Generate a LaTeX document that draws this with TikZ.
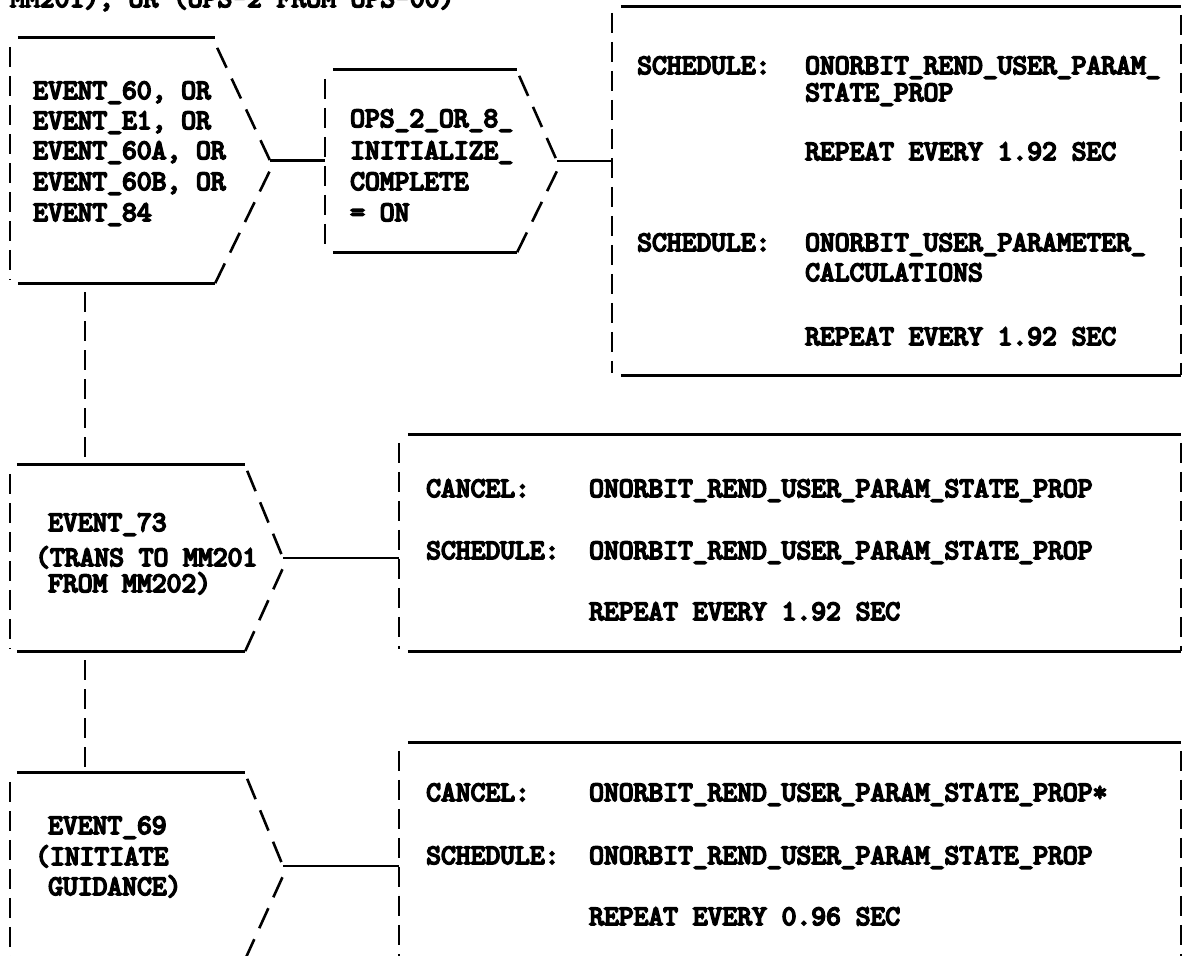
\documentclass[tikz,border=0pt]{standalone}
\usepackage{fontspec}
\newfontfamily\typefont{lmmono10-regular.otf}[FakeBold=6]
\usepackage{tikz}

\begin{document}
\begin{tikzpicture}[
        x=1pt, y=-1pt,
        body/.style={rectangle, draw=none, inner sep=0pt},
        txt/.style={inner sep=0pt, anchor=base west, font=\typefont\fontsize{28.2}{30}\selectfont},
        rule/.style={line width=2.8pt},
        side/.style={line width=2.4pt, dash pattern=on 20pt off 9pt},
        slant/.style={line width=2.6pt, dash pattern=on 22pt off 12pt}
    ]
    \useasboundingbox (0,0) rectangle (1184,956);

    % heading line, cut off by the page
    \node[txt] (head) at (10,7) {MM201), OR (OPS-2 FROM OPS-00)};

    % Event boxes
    \node[body, minimum width=205pt, minimum height=245pt] (ev60) at (112.5,160.5) {};
    \coordinate (ev60tip) at (270,160.5);
    \node[body, minimum width=192pt, minimum height=182pt] (ops) at (421,161) {};
    \coordinate (opstip) at (557,161);
    \node[body, minimum width=235pt, minimum height=186pt] (ev73) at (127.5,558) {};
    \coordinate (ev73tip) at (283,558);
    \node[body, minimum width=235pt, minimum height=186pt] (ev69) at (127.5,866) {};
    \coordinate (ev69tip) at (283,866);

    % Schedule boxes
    \node[body, minimum width=569pt, minimum height=368pt] (sch1) at (896.5,191) {};
    \node[body, minimum width=782pt, minimum height=216pt] (sch2) at (790,543) {};
    \node[body, minimum width=782pt, minimum height=216pt] (sch3) at (790,851) {};

    % Event outlines
    \draw[rule] ([xshift=8pt]ev60.north west) -- (ev60.north east);
    \draw[side] ([yshift=-9pt]ev60.north west) -- ([yshift=3pt]ev60.south west);
    \draw[slant] ([xshift=2pt,yshift=-10pt]ev60.north east) -- (ev60tip);
    \draw[slant] (ev60.south east) -- ([yshift=-10pt]ev60tip);
    \draw[rule] ([xshift=8pt]ev60.south west) -- (ev60.south east);

    \draw[rule] ([xshift=8pt]ops.north west) -- (ops.north east);
    \draw[side] ([yshift=-9pt]ops.north west) -- ([yshift=3pt]ops.south west);
    \draw[slant] ([xshift=2pt,yshift=-6pt]ops.north east) -- (opstip);
    \draw[slant] (ops.south east) -- ([yshift=-10pt]opstip);
    \draw[rule] ([xshift=8pt]ops.south west) -- (ops.south east);

    \draw[rule] ([xshift=7pt]ev73.north west) -- (ev73.north east);
    \draw[side] ([yshift=-9pt]ev73.north west) -- ([yshift=3pt]ev73.south west);
    \draw[slant] ([xshift=2pt,yshift=-6pt]ev73.north east) -- (ev73tip);
    \draw[slant] (ev73.south east) -- ([yshift=-10pt]ev73tip);
    \draw[rule] ([xshift=7pt]ev73.south west) -- (ev73.south east);

    \draw[rule] ([xshift=7pt]ev69.north west) -- (ev69.north east);
    \draw[side] ([yshift=-9pt]ev69.north west) -- ([yshift=3pt]ev69.south west);
    \draw[slant] ([xshift=2pt,yshift=-6pt]ev69.north east) -- (ev69tip);
    \draw[slant] (ev69.south east) -- ([yshift=-10pt]ev69tip);
    \draw[rule] ([xshift=7pt]ev69.south west) -- (ev69.south east);

    % Schedule outlines
    \draw[rule] ([xshift=9pt]sch1.north west) -- (sch1.north east);
    \draw[side] ([yshift=-6pt]sch1.north west) -- ([yshift=2pt]sch1.south west);
    \draw[side, line width=1.6pt] ([yshift=-8pt]sch1.north east) -- (sch1.south east);
    \draw[rule] ([xshift=9pt]sch1.south west) -- (sch1.south east);

    \draw[rule] ([xshift=9pt]sch2.north west) -- (sch2.north east);
    \draw[side] ([yshift=-8pt]sch2.north west) -- ([yshift=2pt]sch2.south west);
    \draw[side, line width=1.6pt] ([yshift=-8pt]sch2.north east) -- (sch2.south east);
    \draw[rule] ([xshift=9pt]sch2.south west) -- (sch2.south east);

    \draw[rule] ([xshift=9pt]sch3.north west) -- (sch3.north east);
    \draw[side] ([yshift=-8pt]sch3.north west) -- ([yshift=2pt]sch3.south west);
    \draw[side, line width=1.6pt] ([yshift=-8pt]sch3.north east) -- (sch3.south east);
    \draw[rule] ([xshift=9pt]sch3.south west) -- (sch3.south east);

    % Connectors
    \draw[rule] (ev60tip) -- (ev60tip -| ops.west);
    \draw[rule] (opstip) -- (opstip -| sch1.west);
    \draw[rule] (ev73tip) -- (ev73tip -| sch2.west);
    \draw[rule] (ev69tip) -- (ev69tip -| sch3.west);
    \draw[side] ([xshift=75pt,yshift=-9pt]ev60.south west) -- ([xshift=75pt]ev73.north west);
    \draw[side] ([xshift=75pt,yshift=-9pt]ev73.south west) -- ([xshift=75pt]ev69.north west);

    % Event texts
    \node[txt] (ev60a) at (33,99) {EVENT\_60, OR};
    \node[txt] (ev60b) at (33,129) {EVENT\_E1, OR};
    \node[txt] (ev60c) at (33,159) {EVENT\_60A, OR};
    \node[txt] (ev60d) at (33,190) {EVENT\_60B, OR};
    \node[txt] (ev60e) at (33,221) {EVENT\_84};

    \node[txt] (opsa) at (350,127) {OPS\_2\_OR\_8\_};
    \node[txt] (opsb) at (350,159) {INITIALIZE\_};
    \node[txt] (opsc) at (350,190) {COMPLETE};
    \node[txt] (opsd) at (350,221) {= ON};

    \node[txt] (ev73a) at (48,531) {EVENT\_73};
    \node[txt] (ev73b) at (35,566) {(TRANS TO MM201};
    \node[txt] (ev73c) at (48,592) {FROM MM202)};

    \node[txt] (ev69a) at (48,834) {EVENT\_69};
    \node[txt] (ev69b) at (35,865) {(INITIATE};
    \node[txt] (ev69c) at (48,895) {GUIDANCE)};

    % Schedule texts
    \node[txt] (sch1a) at (637,74) {SCHEDULE:};
    \node[txt] (sch1b) at (805,74) {ONORBIT\_REND\_USER\_PARAM\_};
    \node[txt] (sch1c) at (805,101) {STATE\_PROP};
    \node[txt] (sch1d) at (805,160) {REPEAT EVERY 1.92 SEC};
    \node[txt] (sch1e) at (637,251) {SCHEDULE:};
    \node[txt] (sch1f) at (805,251) {ONORBIT\_USER\_PARAMETER\_};
    \node[txt] (sch1g) at (805,281) {CALCULATIONS};
    \node[txt] (sch1h) at (805,345) {REPEAT EVERY 1.92 SEC};

    \node[txt] (sch2a) at (426,497) {CANCEL:};
    \node[txt] (sch2b) at (589,497) {ONORBIT\_REND\_USER\_PARAM\_STATE\_PROP};
    \node[txt] (sch2c) at (426,559) {SCHEDULE:};
    \node[txt] (sch2d) at (589,559) {ONORBIT\_REND\_USER\_PARAM\_STATE\_PROP};
    \node[txt] (sch2e) at (589,620) {REPEAT EVERY 1.92 SEC};

    \node[txt] (sch3a) at (426,801) {CANCEL:};
    \node[txt] (sch3b) at (589,801) {ONORBIT\_REND\_USER\_PARAM\_STATE\_PROP*};
    \node[txt] (sch3c) at (426,864) {SCHEDULE:};
    \node[txt] (sch3d) at (589,864) {ONORBIT\_REND\_USER\_PARAM\_STATE\_PROP};
    \node[txt] (sch3e) at (589,925) {REPEAT EVERY 0.96 SEC};
\end{tikzpicture}
\end{document}
